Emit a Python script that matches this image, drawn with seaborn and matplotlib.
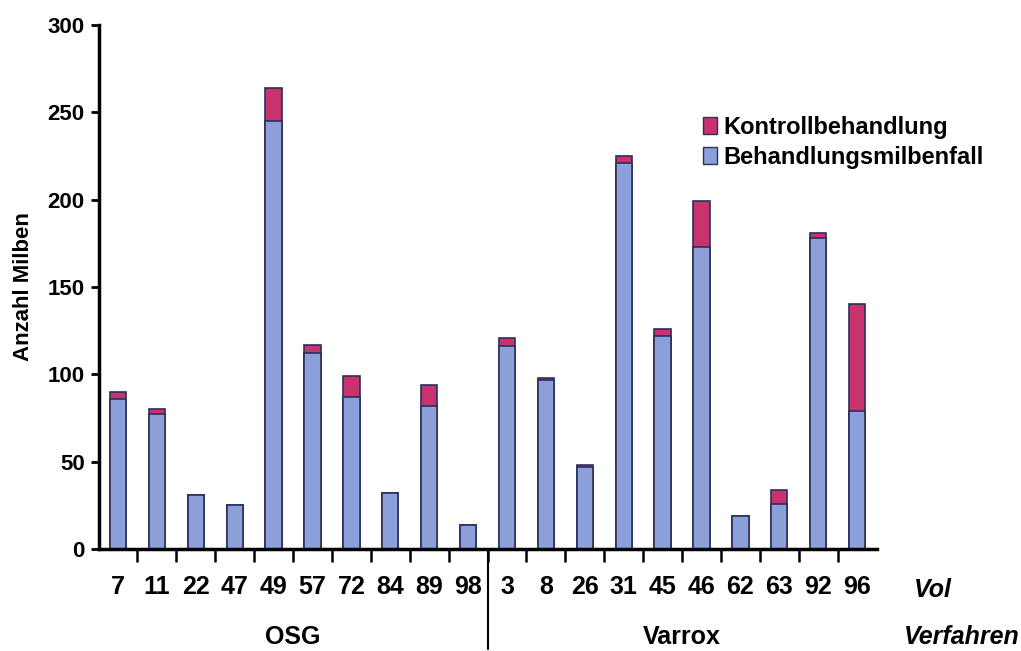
import matplotlib
matplotlib.use("Agg")
import matplotlib.pyplot as plt
import pandas as pd
import seaborn as sns
from matplotlib.patches import Patch

# Volk numbers per procedure
osg_voelker = ["7", "11", "22", "47", "49", "57", "72", "84", "89", "98"]
varrox_voelker = ["3", "8", "26", "31", "45", "46", "62", "63", "92", "96"]

# Behandlungsmilbenfall (blue, lower part)
osg_behandlung = [86, 77, 31, 25, 245, 112, 87, 32, 82, 14]
varrox_behandlung = [116, 97, 47, 221, 122, 173, 19, 26, 178, 79]

# Kontrollbehandlung (red, upper part)
osg_kontrolle = [4, 3, 0, 0, 19, 5, 12, 0, 12, 0]
varrox_kontrolle = [5, 1, 1, 4, 4, 26, 0, 8, 3, 61]

groups = ["OSG", "Varrox"]

voelker = osg_voelker + varrox_voelker
behandlung = osg_behandlung + varrox_behandlung
kontrolle = osg_kontrolle + varrox_kontrolle

df = pd.DataFrame({"Volk": voelker, "Behandlung": behandlung, "Kontrolle": kontrolle})
df["Gesamt"] = df["Behandlung"] + df["Kontrolle"]

blue = "#8d9fd9"
red = "#c8336e"
edge = "#2b2f5e"

sns.set_style("white")
plt.rcParams["font.family"] = ["Liberation Sans", "DejaVu Sans"]
plt.rcParams["font.weight"] = "bold"
for key in ["text.color", "axes.labelcolor", "xtick.color", "ytick.color"]:
    plt.rcParams[key] = "black"
narrow = ["Liberation Sans Narrow", "Liberation Sans", "DejaVu Sans"]

fig = plt.figure(figsize=(10.21, 6.51), dpi=100)
ax = fig.add_axes([0.0965, 0.1567, 0.762, 0.8049])

sns.barplot(data=df, x="Volk", y="Gesamt", order=voelker, color=red, width=0.42,
            edgecolor=edge, linewidth=1.2, saturation=1, ax=ax)
sns.barplot(data=df, x="Volk", y="Behandlung", order=voelker, color=blue, width=0.42,
            edgecolor=edge, linewidth=1.2, saturation=1, ax=ax)

ax.set_xlim(-0.5, len(voelker) - 0.5)
ax.set_ylim(0, 300)
ax.set_yticks([0, 50, 100, 150, 200, 250, 300])
ax.set_xlabel("")
ax.set_ylabel("Anzahl Milben", fontsize=16, fontweight="bold", labelpad=10)

for s in ["top", "right"]:
    ax.spines[s].set_visible(False)
for s in ["left", "bottom"]:
    ax.spines[s].set_linewidth(2.5)
    ax.spines[s].set_color("black")

ax.tick_params(axis="y", direction="out", length=6, width=2, labelsize=16, pad=4, left=True)
ax.tick_params(axis="x", which="major", length=0, pad=19)
ax.set_xticks([i + 0.5 for i in range(len(voelker) - 1)], minor=True)
ax.tick_params(axis="x", which="minor", direction="out", length=9, width=1.8, bottom=True)
for lbl in ax.get_yticklabels():
    lbl.set_fontweight("bold")
for lbl in ax.get_xticklabels():
    lbl.set_fontweight("bold")
    lbl.set_fontsize(18)
    lbl.set_family(narrow)

# divider between procedures
ax.plot([9.5, 9.5], [0, -0.19], transform=ax.get_xaxis_transform(), color="black",
        linewidth=1.5, clip_on=False)

# group labels
ax.text(4.5, -0.168, groups[0], transform=ax.get_xaxis_transform(), ha="center", va="center",
        fontsize=18, fontweight="bold", family=narrow)
ax.text(14.5, -0.168, groups[1], transform=ax.get_xaxis_transform(), ha="center", va="center",
        fontsize=18, fontweight="bold", family=narrow)
fig.text(0.895, 0.093, "Vol", fontsize=18, fontweight="bold", style="italic", ha="left",
         va="center", family=narrow)
fig.text(0.885, 0.022, "Verfahren", fontsize=18, fontweight="bold", style="italic", ha="left",
         va="center", family=narrow)

handles = [Patch(facecolor=red, edgecolor=edge, label="Kontrollbehandlung"),
           Patch(facecolor=blue, edgecolor=edge, label="Behandlungsmilbenfall")]
leg = ax.legend(handles=handles, loc="upper left", bbox_to_anchor=(0.765, 0.845), frameon=False,
                prop={"size": 17, "weight": "bold"}, handlelength=0.6, handleheight=0.7,
                handletextpad=0.25, labelspacing=0.3, borderaxespad=0)

fig.savefig("out.png", dpi=100)
